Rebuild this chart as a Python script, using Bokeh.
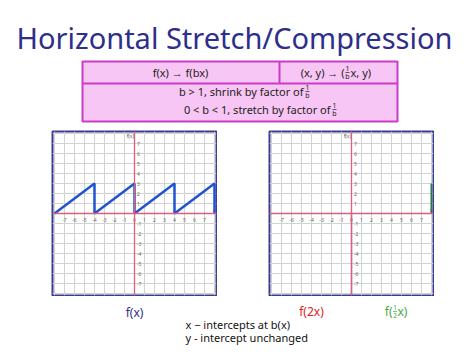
from bokeh.plotting import figure
from bokeh.models import Range1d, Span, FixedTicker, Spacer
from bokeh.layouts import column, row
from bokeh.core.properties import value
from bokeh.embed import file_html
from bokeh.resources import INLINE

# ---------------- data ----------------
title = "Horizontal Stretch/Compression"
rule_left = "f(x) \u2192 f(bx)"
rule_right_a = "(x, y) \u2192 ("
rule_right_b = "x, y)"
shrink_text = "b > 1, shrink by factor of"
stretch_text = "0 < b < 1, stretch by factor of"
frac_num = "1"
frac_den_b = "b"
frac_den_2 = "2"
label_fx = "f(x)"
label_f2x = "f(2x)"
label_fhalf_a = "f("
label_fhalf_b = "x)"
note1 = "x \u2212 intercepts at b(x)"
note2 = "y - intercept unchanged"

# sawtooth f(x): period 4, rises 0 -> 3
saw_x = [-8, -4, -4, 0, 0, 4, 4, 8, 8]
saw_y = [0, 3, 0, 3, 0, 3, 0, 3, 0]
# visible piece of f(x/2) on right graph
half_x = [8, 8]
half_y = [3, 0]

grid_ticks = list(range(-8, 9))
x_tick_vals = [-7, -6, -5, -4, -3, -2, -1, 0, 1, 2, 3, 4, 5, 6, 7]
y_tick_vals = [7, 6, 5, 4, 3, 2, 1, -1, -2, -3, -4, -5, -6, -7]

FONT = value("Noto Sans")
NAVY = "#2e2e8c"


def blank(w, h, xr, yr):
    p = figure(width=w, height=h, x_range=xr, y_range=yr, output_backend="svg",
               toolbar_location=None, min_border=0)
    p.axis.visible = False
    p.grid.visible = False
    p.outline_line_color = None
    p.background_fill_color = "white"
    p.border_fill_color = "white"
    return p


def frac(p, x, y, den, color="#222222", size="7px", gap=3.6):
    p.text(x=[x], y=[y - gap], text=[frac_num], text_align="center", text_baseline="middle",
           text_font_size=size, text_font=FONT, text_color=color)
    p.text(x=[x], y=[y + gap], text=[den], text_align="center", text_baseline="middle",
           text_font_size=size, text_font=FONT, text_color=color)
    p.segment(x0=[x - 2], y0=[y], x1=[x + 2], y1=[y], line_color=color, line_width=0.7)


# ---------------- top: title + table ----------------
top = blank(474, 130, Range1d(0, 474), Range1d(130, 0))
top.text(x=[234], y=[37], text=[title], text_align="center", text_baseline="middle",
         text_font_size="29px", text_font=FONT, text_color=NAVY)

top.quad(left=[82], right=[397], top=[61], bottom=[121], fill_color="#f8c6f4",
         line_color="#c83cc8", line_width=2)
top.segment(x0=[82, 279], y0=[83, 61], x1=[397, 279], y1=[83, 83],
            line_color="#c83cc8", line_width=2)

top.text(x=[180], y=[72], text=[rule_left], text_align="center", text_baseline="middle",
         text_font_size="11px", text_font=FONT, text_color="#222222")
top.text(x=[344], y=[72], text=[rule_right_a], text_align="right", text_baseline="middle",
         text_font_size="11px", text_font=FONT, text_color="#222222")
frac(top, 347, 72, frac_den_b)
top.text(x=[350], y=[72], text=[rule_right_b], text_align="left", text_baseline="middle",
         text_font_size="11px", text_font=FONT, text_color="#222222")

top.text(x=[303], y=[91], text=[shrink_text], text_align="right", text_baseline="middle",
         text_font_size="11px", text_font=FONT, text_color="#222222")
frac(top, 307, 91, frac_den_b)
top.text(x=[330], y=[109], text=[stretch_text], text_align="right", text_baseline="middle",
         text_font_size="11px", text_font=FONT, text_color="#222222")
frac(top, 334, 109, frac_den_b)


# ---------------- graphs ----------------
def graph(dark_lower_axis=False):
    g = figure(width=166, height=166, x_range=Range1d(-8.2, 8.2), y_range=Range1d(-8.2, 8.2),
               output_backend="svg", toolbar_location=None, min_border=1)
    g.axis.visible = False
    g.xgrid.ticker = FixedTicker(ticks=grid_ticks)
    g.ygrid.ticker = FixedTicker(ticks=grid_ticks)
    g.grid.grid_line_color = "#d2d2d2"
    g.grid.grid_line_width = 1
    g.outline_line_color = "#3a3a92"
    g.outline_line_width = 2
    g.background_fill_color = "white"
    g.border_fill_color = "white"
    g.add_layout(Span(location=0, dimension="width", line_color="#e0607c", line_width=1.3))
    g.add_layout(Span(location=0, dimension="height", line_color="#e0607c", line_width=1.3))
    if dark_lower_axis:
        g.segment(x0=[0], y0=[-8.2], x1=[0], y1=[0], line_color="#4a4a96", line_width=1.3)
    g.text(x=x_tick_vals, y=[-0.65] * len(x_tick_vals), text=[str(v) for v in x_tick_vals],
           text_align="center", text_baseline="middle", text_font_size="5px",
           text_font=FONT, text_color="#666666")
    g.text(x=[0.25] * len(y_tick_vals), y=y_tick_vals, text=[str(v) for v in y_tick_vals],
           text_align="left", text_baseline="middle", text_font_size="5px",
           text_font=FONT, text_color="#666666")
    g.text(x=[-0.05], y=[7.75], text=["f(x)"], text_align="right", text_baseline="middle",
           text_font_size="5px", text_font=FONT, text_color="#555555")
    g.text(x=[7.95], y=[0.35], text=["x"], text_align="center", text_baseline="middle",
           text_font_size="5px", text_font=FONT, text_color="#555555")
    return g


left = graph()
left.line(saw_x, saw_y, line_color="#2152d0", line_width=2.5)

right = graph(dark_lower_axis=True)
right.line(half_x, half_y, line_color="#2a7a50", line_width=2)

mid = row(Spacer(width=51, height=166), left, Spacer(width=51, height=166), right,
          Spacer(width=40, height=166))

# ---------------- bottom labels ----------------
bot = blank(474, 59, Range1d(0, 474), Range1d(355, 296))
bot.text(x=[134], y=[312], text=[label_fx], text_align="center", text_baseline="middle",
         text_font_size="12px", text_font=FONT, text_color=NAVY)
bot.text(x=[311], y=[311], text=[label_f2x], text_align="center", text_baseline="middle",
         text_font_size="12px", text_font=FONT, text_color="#dd2222")
bot.text(x=[392], y=[311], text=[label_fhalf_a], text_align="right", text_baseline="middle",
         text_font_size="12px", text_font=FONT, text_color="#44aa44")
frac(bot, 394.5, 311, frac_den_2, color="#44aa44", size="6.5px", gap=3.6)
bot.text(x=[397], y=[311], text=[label_fhalf_b], text_align="left", text_baseline="middle",
         text_font_size="12px", text_font=FONT, text_color="#44aa44")
bot.text(x=[185], y=[324], text=[note1], text_align="left", text_baseline="middle",
         text_font_size="11px", text_font=FONT, text_color="#111111")
bot.text(x=[185], y=[337], text=[note2], text_align="left", text_baseline="middle",
         text_font_size="11px", text_font=FONT, text_color="#111111")

layout = column(top, mid, bot)
open("out.html", "w").write(file_html(layout, INLINE))
